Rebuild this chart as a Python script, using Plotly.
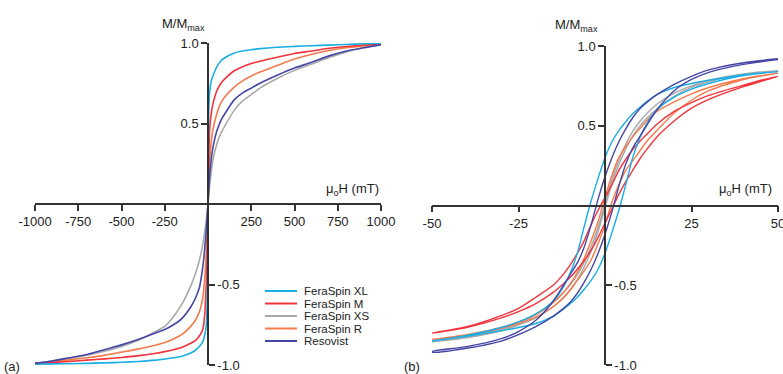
import plotly.graph_objects as go

# ---------------- data ----------------
# Panel (a): full field sweep (mT)
H_a = [-1000, -900, -800, -700, -600, -500, -400, -300, -250, -200, -150, -100, -75, -50, -30, -20, -10, -5, -2, 0,
       2, 5, 10, 20, 30, 50, 75, 100, 150, 200, 250, 300, 400, 500, 600, 700, 800, 900, 1000]

a_XL = [-0.995, -0.993, -0.992, -0.99, -0.987, -0.983, -0.978, -0.97, -0.963, -0.955, -0.945, -0.925, -0.91, -0.885,
        -0.855, -0.82, -0.75, -0.62, -0.40, 0,
        0.40, 0.60, 0.70, 0.77, 0.80, 0.85, 0.89, 0.91, 0.937, 0.95, 0.958, 0.965, 0.974, 0.979, 0.983, 0.987, 0.991,
        0.995, 0.998]
a_M = [-0.99, -0.985, -0.978, -0.97, -0.962, -0.953, -0.942, -0.927, -0.917, -0.905, -0.89, -0.865, -0.85, -0.82,
       -0.78, -0.70, -0.50, -0.33, -0.12, 0,
       0.12, 0.32, 0.47, 0.57, 0.63, 0.70, 0.75, 0.78, 0.826, 0.853, 0.872, 0.887, 0.912, 0.935, 0.95, 0.967, 0.978,
       0.988, 0.995]
a_XS = [-0.99, -0.975, -0.96, -0.94, -0.915, -0.885, -0.845, -0.79, -0.76, -0.70, -0.62, -0.51, -0.44, -0.35,
        -0.25, -0.18, -0.10, -0.05, -0.02, 0,
        0.03, 0.06, 0.12, 0.21, 0.28, 0.37, 0.44, 0.49, 0.58, 0.64, 0.68, 0.72, 0.78, 0.83, 0.87, 0.91, 0.945,
        0.97, 0.99]
a_R = [-0.99, -0.98, -0.968, -0.955, -0.94, -0.92, -0.90, -0.876, -0.86, -0.838, -0.81, -0.76, -0.725, -0.67,
       -0.58, -0.48, -0.30, -0.16, -0.06, 0,
       0.06, 0.15, 0.27, 0.40, 0.47, 0.558, 0.63, 0.67, 0.725, 0.765, 0.795, 0.82, 0.86, 0.90, 0.93, 0.953, 0.97,
       0.982, 0.99]
a_Res = [-0.99, -0.975, -0.955, -0.935, -0.905, -0.875, -0.84, -0.80, -0.78, -0.75, -0.71, -0.64, -0.59, -0.52,
         -0.39, -0.29, -0.16, -0.08, -0.03, 0,
         0.04, 0.10, 0.18, 0.29, 0.36, 0.45, 0.52, 0.565, 0.645, 0.69, 0.72, 0.75, 0.80, 0.845, 0.88, 0.92, 0.95,
         0.97, 0.99]

# Panel (b): minor field sweep (mT), descending and ascending branches
H_b = [-50, -40, -30, -25, -20, -15, -12, -10, -8, -6, -4, -2, 0, 2, 4, 6, 8, 10, 12, 15, 20, 25, 30, 40, 50]

b_XL_desc = [-0.85, -0.815, -0.765, -0.73, -0.68, -0.60, -0.51, -0.42, -0.30, -0.13, 0.03, 0.17, 0.30, 0.40, 0.47,
             0.525, 0.575, 0.615, 0.65, 0.695, 0.74, 0.765, 0.785, 0.82, 0.84]
b_XL_asc = [-0.85, -0.82, -0.785, -0.765, -0.74, -0.695, -0.65, -0.615, -0.575, -0.525, -0.47, -0.40, -0.30, -0.17,
            -0.03, 0.13, 0.30, 0.42, 0.51, 0.60, 0.68, 0.73, 0.765, 0.815, 0.84]
b_M_desc = [-0.80, -0.76, -0.69, -0.645, -0.575, -0.50, -0.43, -0.37, -0.30, -0.22, -0.12, -0.03, 0.05, 0.13, 0.22,
            0.29, 0.35, 0.40, 0.445, 0.51, 0.59, 0.645, 0.69, 0.755, 0.81]
b_M_asc = [-0.80, -0.765, -0.705, -0.665, -0.615, -0.545, -0.49, -0.45, -0.40, -0.345, -0.28, -0.20, -0.11, -0.02,
           0.07, 0.15, 0.22, 0.29, 0.35, 0.43, 0.53, 0.61, 0.665, 0.745, 0.81]
b_XS_desc = [-0.855, -0.825, -0.775, -0.74, -0.685, -0.605, -0.545, -0.495, -0.435, -0.355, -0.255, -0.135, 0.015,
             0.165, 0.285, 0.385, 0.465, 0.525, 0.575, 0.635, 0.705, 0.75, 0.785, 0.825, 0.845]
b_XS_asc = [-0.855, -0.83, -0.785, -0.75, -0.705, -0.635, -0.575, -0.525, -0.465, -0.385, -0.285, -0.165, -0.015,
            0.135, 0.255, 0.355, 0.435, 0.495, 0.545, 0.605, 0.685, 0.74, 0.775, 0.825, 0.845]
b_R_desc = [-0.84, -0.81, -0.765, -0.73, -0.685, -0.61, -0.545, -0.49, -0.42, -0.33, -0.22, -0.10, 0.05, 0.19, 0.30,
            0.37, 0.43, 0.48, 0.53, 0.59, 0.65, 0.70, 0.74, 0.795, 0.83]
b_R_asc = [-0.84, -0.815, -0.77, -0.74, -0.70, -0.635, -0.58, -0.53, -0.47, -0.41, -0.34, -0.24, -0.12, 0.02, 0.13,
           0.22, 0.28, 0.34, 0.40, 0.47, 0.58, 0.66, 0.72, 0.79, 0.83]
b_Res_desc = [-0.915, -0.885, -0.835, -0.79, -0.72, -0.60, -0.50, -0.43, -0.36, -0.26, -0.12, 0.04, 0.18, 0.30, 0.40,
              0.48, 0.55, 0.605, 0.645, 0.695, 0.76, 0.81, 0.85, 0.895, 0.92]
b_Res_asc = [-0.92, -0.895, -0.85, -0.81, -0.76, -0.695, -0.645, -0.605, -0.55, -0.48, -0.40, -0.30, -0.18, -0.04,
             0.12, 0.26, 0.36, 0.43, 0.50, 0.60, 0.72, 0.79, 0.835, 0.885, 0.915]

names = ["FeraSpin XL", "FeraSpin M", "FeraSpin XS", "FeraSpin R", "Resovist"]
colors = {"FeraSpin XL": "#19aee6", "FeraSpin M": "#f2333c", "FeraSpin XS": "#a9a9a9",
          "FeraSpin R": "#f57a4c", "Resovist": "#4646a6"}

a_tickvals = [-1000, -750, -500, -250, 250, 500, 750, 1000]
b_tickvals = [-50, -25, 25, 50]
y_pos_ticks = [0.5, 1.0]
y_neg_ticks = [-1.0, -0.5]

# ---------------- figure ----------------
W, Hh = 783, 374
FONT = "Liberation Sans, Arial, sans-serif"
AX = "#333333"

def px(x):
    return x / W

def py(y):
    return 1 - y / Hh

fig = go.Figure()

draw_order = ["FeraSpin XS", "FeraSpin R", "FeraSpin M", "FeraSpin XL", "Resovist"]
a_data = {"FeraSpin XL": a_XL, "FeraSpin M": a_M, "FeraSpin XS": a_XS, "FeraSpin R": a_R, "Resovist": a_Res}
b_data = {"FeraSpin XL": (b_XL_desc, b_XL_asc), "FeraSpin M": (b_M_desc, b_M_asc),
          "FeraSpin XS": (b_XS_desc, b_XS_asc), "FeraSpin R": (b_R_desc, b_R_asc),
          "Resovist": (b_Res_desc, b_Res_asc)}

for n in draw_order:
    fig.add_trace(go.Scatter(x=H_a, y=a_data[n], mode="lines", name=n, showlegend=False,
                             line=dict(color=colors[n], width=1.6, shape="spline", smoothing=0.6),
                             xaxis="x", yaxis="y"))
for n in draw_order:
    d, a = b_data[n]
    xs = H_b[::-1] + H_b
    ys = d[::-1] + a
    fig.add_trace(go.Scatter(x=xs, y=ys, mode="lines", name=n, showlegend=False,
                             line=dict(color=colors[n], width=1.4, shape="spline", smoothing=0.7),
                             xaxis="x2", yaxis="y2"))

# empty helper traces so the right-hand (negative-value) tick axes are rendered
fig.add_trace(go.Scatter(x=[None], y=[None], mode="lines", showlegend=False, hoverinfo="skip",
                         xaxis="x", yaxis="y3"))
fig.add_trace(go.Scatter(x=[None], y=[None], mode="lines", showlegend=False, hoverinfo="skip",
                         xaxis="x2", yaxis="y4"))

tickfont = dict(family=FONT, size=13, color="#222222")

ya_dom = [py(365), py(43)]
yb_dom = [py(365), py(46)]
xa_dom = [px(35), px(381)]
xb_dom = [px(432), px(778)]

common_x = dict(showgrid=False, zeroline=False, showline=True, linecolor=AX, linewidth=1.5,
                ticks="outside", ticklen=6, tickwidth=1.5, tickcolor=AX, tickfont=tickfont,
                anchor="free", side="bottom", automargin=False, ticklabeloverflow="allow")
common_y = dict(showgrid=False, zeroline=False, showline=True, linecolor=AX, linewidth=1.5,
                ticks="outside", ticklen=6, tickwidth=1.5, tickcolor=AX, tickfont=tickfont,
                anchor="free", range=[-1, 1], automargin=False, ticklabeloverflow="allow")

fig.update_layout(
    width=W, height=Hh, margin=dict(l=0, r=0, t=0, b=0, pad=0, autoexpand=False),
    paper_bgcolor="white", plot_bgcolor="rgba(0,0,0,0)",
    showlegend=False,
    xaxis=dict(common_x, domain=xa_dom, range=[-1000, 1000], position=(ya_dom[0] + ya_dom[1]) / 2,
               tickvals=a_tickvals, ticktext=[str(v) for v in a_tickvals]),
    yaxis=dict(common_y, domain=ya_dom, position=(xa_dom[0] + xa_dom[1]) / 2, side="left",
               tickvals=y_pos_ticks, ticktext=["%.1f" % v for v in y_pos_ticks]),
    yaxis3=dict(common_y, domain=ya_dom, overlaying="y", position=(xa_dom[0] + xa_dom[1]) / 2, side="right",
                tickvals=y_neg_ticks, ticktext=["%.1f" % v for v in y_neg_ticks]),
    xaxis2=dict(common_x, domain=xb_dom, range=[-50, 50], position=(yb_dom[0] + yb_dom[1]) / 2,
                tickvals=b_tickvals, ticktext=[str(v) for v in b_tickvals]),
    yaxis2=dict(common_y, domain=yb_dom, position=(xb_dom[0] + xb_dom[1]) / 2, side="left",
                tickvals=y_pos_ticks, ticktext=["%.1f" % v for v in y_pos_ticks]),
    yaxis4=dict(common_y, domain=yb_dom, overlaying="y2", position=(xb_dom[0] + xb_dom[1]) / 2, side="right",
                tickvals=y_neg_ticks, ticktext=["%.1f" % v for v in y_neg_ticks]),
)

lab = dict(family=FONT, size=13, color="#222222")
ann = []
ann.append(dict(text="M/M<sub>max</sub>", x=px(160), y=py(24), xref="paper", yref="paper",
                xanchor="left", yanchor="middle", showarrow=False, font=lab))
ann.append(dict(text="M/M<sub>max</sub>", x=px(553), y=py(25), xref="paper", yref="paper",
                xanchor="left", yanchor="middle", showarrow=False, font=lab))
ann.append(dict(text="μ<sub>o</sub>H (mT)", x=px(324), y=py(189), xref="paper", yref="paper",
                xanchor="left", yanchor="middle", showarrow=False, font=lab))
ann.append(dict(text="μ<sub>o</sub>H (mT)", x=px(717), y=py(189), xref="paper", yref="paper",
                xanchor="left", yanchor="middle", showarrow=False, font=lab))
ann.append(dict(text="(a)", x=px(2), y=py(366), xref="paper", yref="paper",
                xanchor="left", yanchor="middle", showarrow=False, font=lab))
ann.append(dict(text="(b)", x=px(402), y=py(366), xref="paper", yref="paper",
                xanchor="left", yanchor="middle", showarrow=False, font=lab))

# manual legend (compact rows as in the reference)
shapes = []
row_y = [291, 303.5, 316, 328.5, 341]
for n, ry in zip(names, row_y):
    shapes.append(dict(type="line", xref="paper", yref="paper", x0=px(265), x1=px(297), y0=py(ry), y1=py(ry),
                       line=dict(color=colors[n], width=2)))
    ann.append(dict(text=n, x=px(302), y=py(ry), xref="paper", yref="paper", xanchor="left", yanchor="middle",
                    showarrow=False, font=dict(family=FONT, size=11.5, color="#222222")))

fig.update_layout(annotations=ann, shapes=shapes)

fig.write_html("out.html", config={"displayModeBar": False},
               post_script="document.body.style.margin='0';document.body.style.overflow='hidden';")
